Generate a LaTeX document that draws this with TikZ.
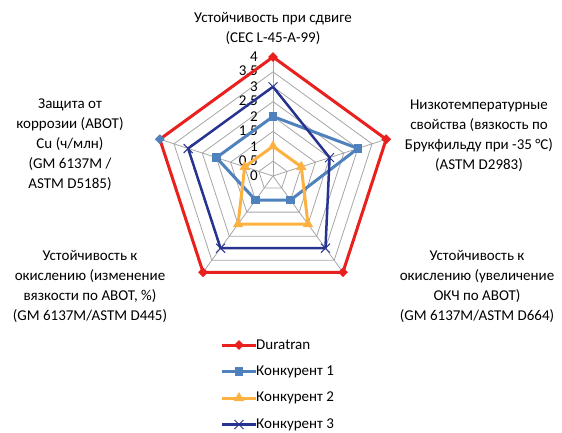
\documentclass[tikz,border=0pt]{standalone}
\usepackage{fontspec}
\setmainfont{Carlito}
\usetikzlibrary{shapes.geometric}
\definecolor{cred}{HTML}{E8201E}
\definecolor{cblue}{HTML}{4F81BD}
\definecolor{corange}{HTML}{FDB140}
\definecolor{cnavy}{HTML}{26338F}
\definecolor{cgrid}{HTML}{A6A6A6}
\begin{document}
\begin{tikzpicture}[x=1pt,y=1pt,
  lbl/.style={font=\fontsize{15}{20}\selectfont, align=center, inner sep=0},
  ticklbl/.style={font=\fontsize{15}{16}\selectfont, anchor=east, inner sep=0},
  gridline/.style={draw=cgrid, line width=0.8pt},
  serline/.style={line width=3pt, line join=round},
  mdia/.style={diamond, fill=cred, minimum size=10pt, inner sep=0},
  msq/.style={rectangle, fill=cblue, minimum size=8.5pt, inner sep=0},
  mtri/.style={regular polygon, regular polygon sides=3, fill=corange, minimum size=12pt, inner sep=0},
]
\useasboundingbox (0,-432) rectangle (562,0);
\def\u{29.75}
\begin{scope}[shift={(273,-176)}]
  % grid rings
  \foreach \v in {0.5,1,...,4}
    \draw[gridline] (90:\v*\u) -- (18:\v*\u) -- (-54:\v*\u) -- (-126:\v*\u) -- (162:\v*\u) -- cycle;
  % spokes
  \foreach \a in {90,18,-54,-126,162}
    \draw[gridline] (0,0) -- (\a:4*\u);
  % tick labels
  \foreach \v/\t in {0/0,0.5/{0,5},1/1,1.5/{1,5},2/2,2.5/{2,5},3/3,3.5/{3,5},4/4}
    \node[ticklbl] (t\v) at (-15,\v*\u) {\t};
  % Duratran
  \draw[serline, cred] (90:4*\u) -- (18:4*\u) -- (-54:4*\u) -- (-126:4*\u) -- (162:4*\u) -- cycle;
  \node[mdia] (d1) at (90:4*\u) {};
  \node[mdia] (d2) at (18:4*\u) {};
  \node[mdia] (d3) at (-54:4*\u) {};
  \node[mdia] (d4) at (-126:4*\u) {};
  \node[mdia, fill=cblue] (d5) at (162:4*\u) {};
  % Konkurent 1
  \draw[serline, cblue] (90:2*\u) -- (18:3*\u) -- (-54:1*\u) -- (-126:1*\u) -- (162:2*\u) -- cycle;
  \node[msq] (b1) at (90:2*\u) {};
  \node[msq] (b2) at (18:3*\u) {};
  \node[msq] (b3) at (-54:1*\u) {};
  \node[msq] (b4) at (-126:1*\u) {};
  \node[msq] (b5) at (162:2*\u) {};
  % Konkurent 2
  \draw[serline, corange] (90:1*\u) -- (18:1*\u) -- (-54:2*\u) -- (-126:2*\u) -- (162:1*\u) -- cycle;
  \foreach \a/\v/\n in {90/1/1,18/1/2,-54/2/3,-126/2/4,162/1/5}
    \node[mtri] (o\n) at (\a:\v*\u) {};
  % Konkurent 3
  \draw[serline, cnavy, line width=2.5pt] (90:3*\u) -- (18:2*\u) -- (-54:3*\u) -- (-126:3*\u) -- (162:3*\u) -- cycle;
  \foreach \a/\v/\n in {90/3/1,18/2/2,-54/3/3,-126/3/4,162/3/5}{
    \coordinate (n\n) at (\a:\v*\u);
    \draw[cnavy, line width=1pt] ([shift={(-4.5,-4.5)}]n\n) -- ([shift={(4.5,4.5)}]n\n)
                                 ([shift={(-4.5,4.5)}]n\n) -- ([shift={(4.5,-4.5)}]n\n);
  }
\end{scope}
% axis labels
\node[lbl] (ax1) at (273,-28) {Устойчивость при сдвиге\\(CEC L-45-A-99)};
\node[lbl] (ax2) at (479,-136) {Низкотемпературные\\свойства (вязкость по\\Брукфильду при -35 °C)\\(ASTM D2983)};
\node[lbl] (ax3) at (477,-286) {Устойчивость к\\окислению (увеличение\\ОКЧ по АВОТ)\\(GM 6137M/ASTM D664)};
\node[lbl] (ax4) at (90,-286) {Устойчивость к\\окислению (изменение\\вязкости по АВОТ, \%)\\(GM 6137M/ASTM D445)};
\node[lbl] (ax5) at (70,-145) {Защита от\\коррозии (АВОТ)\\Cu (ч/млн)\\(GM 6137M /\\ASTM D5185)};
% legend
\foreach \y/\n in {345/1,371.5/2,398/3,424.5/4}{
  \coordinate (la\n) at (222,-\y);
  \coordinate (lb\n) at (256,-\y);
  \coordinate (lm\n) at (239,-\y);
}
\draw[serline, cred] (la1) -- (lb1); \node[mdia] (lg1) at (lm1) {};
\draw[serline, cblue] (la2) -- (lb2); \node[msq] (lg2) at (lm2) {};
\draw[serline, corange] (la3) -- (lb3); \node[mtri] (lg3) at (lm3) {};
\draw[serline, cnavy, line width=2.5pt] (la4) -- (lb4);
\draw[cnavy, line width=1pt] ([shift={(-4.5,-4.5)}]lm4) -- ([shift={(4.5,4.5)}]lm4)
                             ([shift={(-4.5,4.5)}]lm4) -- ([shift={(4.5,-4.5)}]lm4);
\node[lbl, anchor=west] (lt1) at (256,-345) {Duratran};
\node[lbl, anchor=west] (lt2) at (256,-371.5) {Конкурент 1};
\node[lbl, anchor=west] (lt3) at (256,-398) {Конкурент 2};
\node[lbl, anchor=west] (lt4) at (256,-424.5) {Конкурент 3};
\end{tikzpicture}
\end{document}
